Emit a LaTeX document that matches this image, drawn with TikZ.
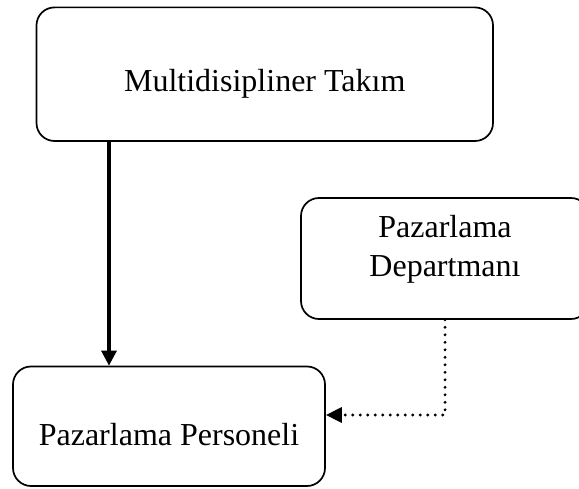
\documentclass[tikz,border=0pt]{standalone}
\usepackage{fontspec}
\setmainfont{Liberation Serif}
\usetikzlibrary{arrows.meta,calc}

\tikzset{
  box/.style={draw=black, line width=1.7pt, rounded corners=18pt,
              inner sep=0pt, fill=white},
  lbl/.style={anchor=base, inner sep=0pt, font=\fontsize{32}{39}\selectfont},
  mainarrow/.style={line width=3.2pt, -{Triangle[length=15pt,width=15pt]}},
  dotarrow/.style={line width=3.2pt, line cap=round,
                   dash pattern=on 0pt off 7.5pt,
                   -{Triangle[length=16pt,width=15pt]}}
}

\begin{document}
\begin{tikzpicture}[x=1pt,y=1pt]
  \useasboundingbox (0,0) rectangle (579,488);

  % boxes
  \node[box, minimum width=456.5pt, minimum height=133.6pt] (b1) at (264.75,413.8) {};
  \node[box, minimum width=288pt,   minimum height=121pt]   (b2) at (445,229.5) {};
  \node[box, minimum width=312pt,   minimum height=119.5pt] (b3) at (169,61.75) {};

  % labels
  \node[lbl] (t1)  at ($(b1.center)+(0,-17.8)$) {Multidisipliner Takım};
  \node[lbl] (t2a) at ($(b2.center)+(0,20.5)$)  {Pazarlama};
  \node[lbl] (t2b) at ($(b2.center)+(0,-18.5)$) {Departmanı};
  \node[lbl] (t3)  at ($(b3.center)+(0,-18.75)$) {Pazarlama Personeli};

  % connectors
  \coordinate (c1) at (109,0);
  \draw[mainarrow] (b1.south -| c1) -- (b3.north -| c1);
  \draw[dotarrow] (b2.south) |- ([yshift=11.25pt]b3.east);
\end{tikzpicture}
\end{document}
